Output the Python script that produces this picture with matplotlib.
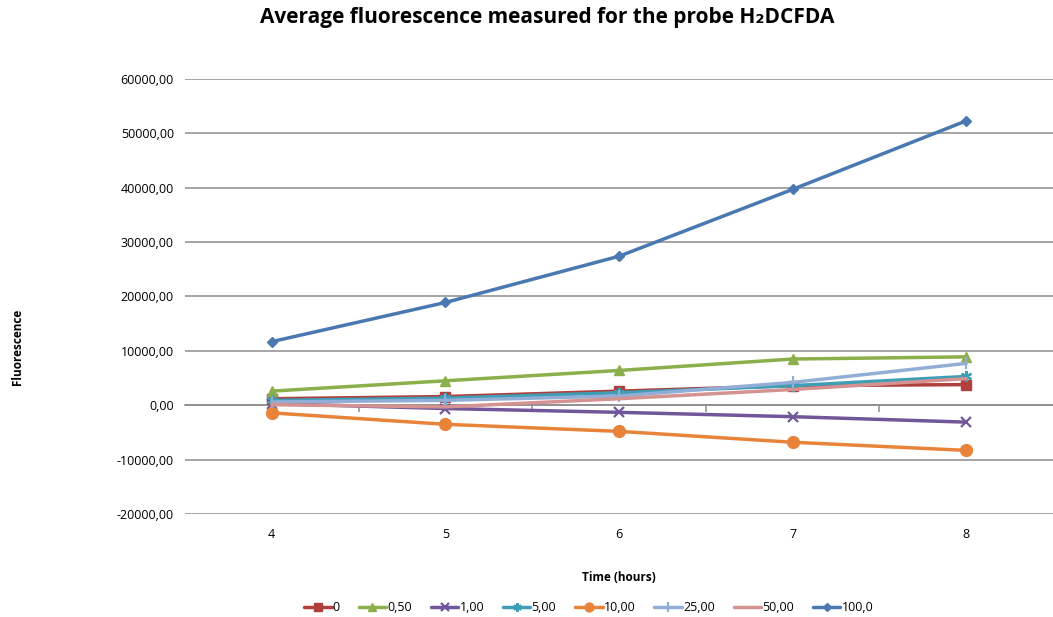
import matplotlib.pyplot as plt

# time points (hours) and average fluorescence per concentration
hours = [4, 5, 6, 7, 8]
conc_0 = [1200, 1600, 2600, 3600, 3800]
conc_050 = [2600, 4500, 6400, 8500, 8900]
conc_100 = [300, -600, -1300, -2100, -3100]
conc_500 = [900, 1300, 2300, 3600, 5300]
conc_1000 = [-1400, -3500, -4800, -6800, -8300]
conc_2500 = [600, 900, 1700, 4200, 7700]
conc_5000 = [100, -300, 1200, 2900, 4900]
conc_10000 = [11700, 18900, 27400, 39700, 52300]

series_names = ["0", "0,50", "1,00", "5,00", "10,00", "25,00", "50,00", "100,0"]
series_vals = [conc_0, conc_050, conc_100, conc_500, conc_1000, conc_2500, conc_5000, conc_10000]
colors = ["#B0403D", "#8BAF4A", "#71579A", "#3E9EB6", "#E8833A", "#93AED6", "#D49290", "#4A78B0"]
markers = ["s", "^", "x", (6, 2, 0), "o", "|", None, "D"]
msizes = [7, 7, 7, 8, 8.5, 9, 0, 5.5]

yticks = list(range(-20000, 60001, 10000))

plt.rcParams["font.family"] = ["Open Sans", "DejaVu Sans"]


def fmt(v):  # comma decimal like the original
    return ("%.2f" % v).replace(".", ",")


fig = plt.figure(figsize=(10.53, 6.17), dpi=100)
ax = fig.add_axes([0.1757, 0.1669, 0.8243, 0.7051])

x_pos = list(range(len(hours)))
for name, vals, c, m, ms in zip(series_names, series_vals, colors, markers, msizes):
    ax.plot(x_pos, vals, color=c, lw=2.5, marker=m, markersize=ms,
            markeredgewidth=1.6 if m in ("x", "|", (6, 2, 0)) else 1, markeredgecolor=c,
            label=name, solid_capstyle="round")

ax.set_xlim(-0.5, len(hours) - 0.5)
ax.set_ylim(-20000, 60000)
ax.set_yticks(yticks)
ax.set_yticklabels([fmt(v) for v in yticks], fontsize=9)
ax.set_xticks(x_pos)
ax.set_xticklabels([str(h) for h in hours], fontsize=9)
ax.tick_params(axis="x", length=0, pad=10)
ax.tick_params(axis="y", length=0, pad=8)
ax.yaxis.grid(True, color="#8C8C8C", lw=1.1)
ax.set_axisbelow(True)
for s in ["left", "right", "top", "bottom"]:
    ax.spines[s].set_visible(False)

# horizontal category axis crossing at zero, ticks between categories
zero_frac = (0 - yticks[0]) / (yticks[-1] - yticks[0])
sec = ax.secondary_xaxis(zero_frac)
sec.set_xticks([p + 0.5 for p in x_pos[:-1]])
sec.set_xticklabels([])
sec.tick_params(axis="x", length=5, color="#8C8C8C", width=1.1)
sec.spines["bottom"].set_color("#8C8C8C")
sec.spines["bottom"].set_linewidth(1.1)

fig.suptitle("Average fluorescence measured for the probe H\u2082DCFDA", fontsize=15,
             fontweight="bold", x=0.52, y=0.972, va="center")
ax.set_xlabel("Time (hours)", fontsize=8.5, fontweight="bold", labelpad=22)
fig.text(0.017, 0.4376, "Fluorescence", rotation=90, fontsize=8.5, fontweight="bold",
         ha="center", va="center")

fig.legend(loc="center", bbox_to_anchor=(0.559, 0.015), ncol=8, frameon=False,
           fontsize=9, handlelength=2.2, handletextpad=0.1, columnspacing=1.5,
           markerscale=0.75)

fig.savefig("out.png", dpi=100)
